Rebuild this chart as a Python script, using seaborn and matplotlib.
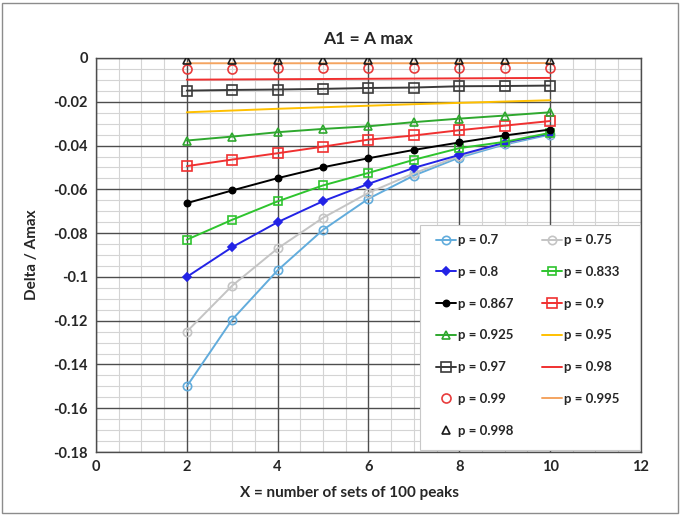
import matplotlib
matplotlib.use("Agg")
import matplotlib.pyplot as plt
import seaborn as sns
import pandas as pd
from matplotlib.ticker import MultipleLocator, FuncFormatter
from matplotlib.patches import Rectangle

sns.set_theme(style="white")
plt.rcParams['font.family'] = ['Lato', 'DejaVu Sans']
plt.rcParams['axes.unicode_minus'] = False

x_sets = [2, 3, 4, 5, 6, 7, 8, 9, 10]

p_070 = [-0.150, -0.1195, -0.097, -0.0785, -0.0643, -0.0537, -0.0455, -0.0395, -0.0350]
p_075 = [-0.125, -0.104, -0.087, -0.073, -0.0616, -0.0527, -0.0448, -0.0390, -0.0345]
p_080 = [-0.100, -0.0864, -0.075, -0.0654, -0.0575, -0.0502, -0.0443, -0.0387, -0.0345]
p_0833 = [-0.083, -0.0739, -0.0655, -0.0582, -0.0525, -0.0465, -0.0412, -0.0383, -0.0342]
p_0867 = [-0.0663, -0.0605, -0.0549, -0.0499, -0.0458, -0.0420, -0.0386, -0.0354, -0.0327]
p_090 = [-0.0494, -0.0464, -0.0435, -0.0405, -0.0373, -0.0354, -0.0330, -0.0309, -0.0288]
p_0925 = [-0.0377, -0.0359, -0.0339, -0.0324, -0.0312, -0.0293, -0.0277, -0.0263, -0.0248]
p_095 = [-0.0248, -0.0240, -0.0232, -0.0225, -0.0218, -0.0211, -0.0205, -0.0199, -0.0193]
p_097 = [-0.0149, -0.0146, -0.0144, -0.0141, -0.0137, -0.0135, -0.0129, -0.0128, -0.0126]
p_098 = [-0.0099, -0.0098, -0.0097, -0.0096, -0.0095, -0.0094, -0.0093, -0.0092, -0.0091]
p_099 = [-0.0048, -0.0048, -0.0047, -0.0047, -0.0047, -0.0047, -0.0046, -0.0046, -0.0046]
p_0995 = [-0.0024, -0.0024, -0.0024, -0.0024, -0.0024, -0.0024, -0.0023, -0.0023, -0.0023]
p_0998 = [-0.0010, -0.0010, -0.0010, -0.0010, -0.0010, -0.0010, -0.0010, -0.0010, -0.0010]

labels = ["p = 0.7", "p = 0.75", "p = 0.8", "p = 0.833", "p = 0.867", "p = 0.9",
          "p = 0.925", "p = 0.95", "p = 0.97", "p = 0.98", "p = 0.99", "p = 0.995",
          "p = 0.998"]
values = [p_070, p_075, p_080, p_0833, p_0867, p_090, p_0925, p_095, p_097,
          p_098, p_099, p_0995, p_0998]

x_major = [0, 2, 4, 6, 8, 10, 12]
y_major = [0, -0.02, -0.04, -0.06, -0.08, -0.10, -0.12, -0.14, -0.16, -0.18]

# (color, marker, marker face, linestyle, marker size)
styles = [
    ("#62ACDC", "o", "none", "-", 6),
    ("#C4C4C4", "o", "none", "-", 6),
    ("#2323E6", "D", "#2323E6", "-", 4),
    ("#2EC42E", "s", "none", "-", 6),
    ("#000000", "o", "#000000", "-", 4.5),
    ("#F03030", "s", "none", "-", 6.5),
    ("#2EA82E", "^", "none", "-", 6),
    ("#FFC000", None, None, "-", 0),
    ("#3A3A3A", "s", "none", "-", 6.5),
    ("#F03030", None, None, "-", 0),
    ("#E83C3C", "o", "none", "none", 6.5),
    ("#F4A460", None, None, "-", 0),
    ("#1A1A1A", "^", "none", "none", 5.5),
]

fig = plt.figure(figsize=(6.81, 5.16), dpi=100)
ax = fig.add_axes([0.141, 0.124, 0.8, 0.7636])

for lab, vals, (col, mk, mfc, ls, ms) in zip(labels, values, styles):
    df = pd.DataFrame({"X": x_sets, "delta": vals})
    kw = dict(color=col, linewidth=1.4, linestyle=ls, label=lab, zorder=3)
    if mk is not None:
        kw.update(marker=mk, markersize=ms, markerfacecolor=mfc,
                  markeredgecolor=col, markeredgewidth=1.2)
    sns.lineplot(data=df, x="X", y="delta", ax=ax, **kw)

ax.set_xlim(0, 12)
ax.set_ylim(-0.18, 0)
ax.set_xticks(x_major)
ax.set_yticks(y_major)
ax.xaxis.set_minor_locator(MultipleLocator(0.5))
ax.yaxis.set_minor_locator(MultipleLocator(0.005))
# light minor grid underneath, dark major grid drawn above it
ax.grid(which="minor", color="#d4d4d4", linewidth=0.8)
ax.grid(which="major", visible=False)
ax.set_axisbelow(True)
for xv in x_major:
    ax.axvline(xv, color="#4d4d4d", linewidth=1.0, zorder=1.5)
for yv in y_major:
    ax.axhline(yv, color="#4d4d4d", linewidth=1.0, zorder=1.5)

ax.tick_params(which="both", length=0, labelsize=10.5, pad=6)
ax.yaxis.set_major_formatter(FuncFormatter(lambda v, _: "0" if abs(v) < 1e-9 else f"{v:g}"))
for t in ax.get_xticklabels() + ax.get_yticklabels():
    t.set_fontweight("bold")
for s in ax.spines.values():
    s.set_color("#4d4d4d")
    s.set_linewidth(1.0)

ax.set_title("A1 = A max", fontsize=12.5, fontweight="bold", pad=10)
ax.set_xlabel("X = number of sets of 100 peaks", fontsize=11, fontweight="bold")
ax.xaxis.set_label_coords(0.466, -0.085)
ax.set_ylabel("Delta / Amax", fontsize=11, fontweight="bold", labelpad=10)

handles, labs = ax.get_legend_handles_labels()
order = [0, 2, 4, 6, 8, 10, 12, 1, 3, 5, 7, 9, 11]
leg = ax.legend([handles[i] for i in order], [labs[i] for i in order],
                ncol=2, loc="upper left", bbox_to_anchor=(0.624, 0.553),
                prop={"weight": "bold", "size": 9.5}, frameon=False,
                handlelength=1.5, handletextpad=0.15, columnspacing=2.2,
                labelspacing=1.5, borderpad=0, borderaxespad=0)
leg.set_zorder(5)
# legend box
ax.add_patch(Rectangle((0.594, 0.005), 0.404, 0.571, transform=ax.transAxes,
                       facecolor="white", edgecolor="#c8c8c8", linewidth=0.8, zorder=4))

fig.patches.append(Rectangle((0.003, 0.005), 0.992, 0.99, transform=fig.transFigure,
                             fill=False, edgecolor="#8c8c8c", linewidth=1.0))

fig.savefig("out.png", dpi=100)
